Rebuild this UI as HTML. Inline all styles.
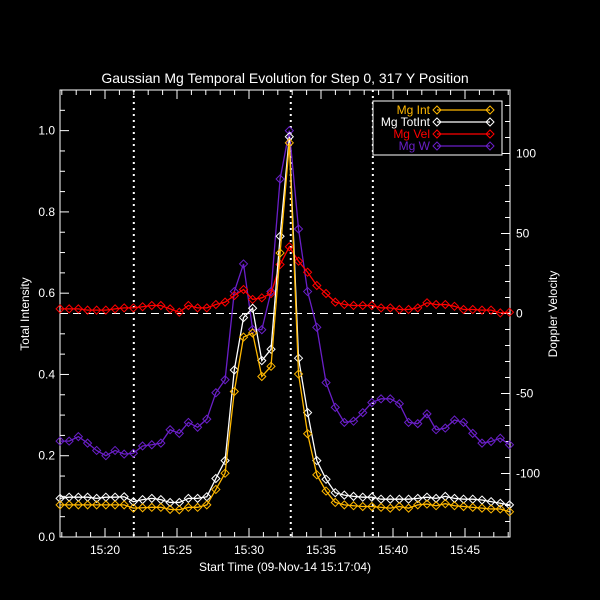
<!DOCTYPE html>
<html><head><meta charset="utf-8"><style>
html,body{margin:0;padding:0;background:#000;}
svg text{font-family:"Liberation Sans",sans-serif;}
</style></head><body>
<svg id="chart" width="600" height="600" xmlns="http://www.w3.org/2000/svg" style="display:block;background:#000">
<text x="285" y="83" fill="#fff" font-size="14" text-anchor="middle">Gaussian Mg Temporal Evolution for Step 0, 317 Y Position</text>
<text transform="translate(29,314) rotate(-90)" fill="#fff" font-size="12" text-anchor="middle">Total Intensity</text>
<text transform="translate(557,314) rotate(-90)" fill="#fff" font-size="12" text-anchor="middle">Doppler Velocity</text>
<text x="285" y="571" fill="#fff" font-size="12" text-anchor="middle">Start Time (09-Nov-14 15:17:04)</text>
<g id="axes"></g><g id="marks"></g><g id="legend"></g>
</svg>
<script>
// time in minutes relative to 15:20
const times=[-3.12,-2.49,-1.85,-1.21,-0.58,0.06,0.70,1.33,1.97,2.61,3.25,3.88,4.52,5.16,5.79,6.43,7.07,7.70,8.34,8.98,9.62,10.25,10.89,11.53,12.16,12.80,13.44,14.07,14.71,15.35,15.99,16.62,17.26,17.90,18.53,19.17,19.81,20.44,21.08,21.72,22.36,22.99,23.63,24.27,24.90,25.54,26.18,26.81,27.45,28.09];
const mgInt=[0.079,0.079,0.079,0.079,0.079,0.079,0.079,0.079,0.071,0.072,0.073,0.073,0.068,0.067,0.073,0.073,0.079,0.117,0.157,0.358,0.492,0.502,0.395,0.420,0.699,0.970,0.401,0.254,0.153,0.113,0.085,0.079,0.077,0.075,0.075,0.073,0.071,0.075,0.071,0.079,0.081,0.077,0.082,0.077,0.075,0.073,0.071,0.069,0.069,0.062];
const mgTotInt=[0.095,0.098,0.098,0.098,0.095,0.098,0.098,0.099,0.087,0.092,0.095,0.092,0.085,0.085,0.095,0.095,0.099,0.144,0.188,0.411,0.540,0.563,0.434,0.462,0.740,0.985,0.440,0.306,0.188,0.142,0.109,0.103,0.100,0.098,0.098,0.093,0.093,0.093,0.093,0.095,0.098,0.095,0.100,0.095,0.093,0.093,0.091,0.087,0.083,0.079];
const mgVel=[2.9,2.9,2.9,2.1,2.1,2.1,2.9,3.5,3.5,4.2,5.0,5.0,2.9,0.8,5.0,3.5,3.5,5.6,7.1,11.2,15.0,8.8,9.8,12.5,30.6,41.7,32.7,25.8,17.5,12.5,7.1,5.6,5.0,5.0,5.0,3.5,3.5,2.5,2.5,3.5,6.7,5.6,5.6,4.5,2.5,2.5,2.1,2.1,0.4,0.8];
const mgW=[0.236,0.236,0.247,0.231,0.213,0.200,0.213,0.204,0.206,0.224,0.227,0.231,0.264,0.255,0.282,0.270,0.290,0.355,0.387,0.604,0.672,0.511,0.510,0.604,0.881,1.000,0.758,0.604,0.516,0.380,0.319,0.282,0.285,0.306,0.331,0.340,0.340,0.328,0.282,0.279,0.303,0.264,0.268,0.288,0.282,0.255,0.231,0.235,0.243,0.227];
const xTickLabels=["15:20","15:25","15:30","15:35","15:40","15:45"];
const xTickMinutes=[0,5,10,15,20,25];
const yTickLabels=["0.0","0.2","0.4","0.6","0.8","1.0"];
const y2TickLabels=["-100","-50","0","50","100"];
const dottedMinutes=[2.0,12.9,18.6];

const L=60,R=510,T=90,B=537;
const xS=m=>105+m*14.4;
const yS=v=>B-v*(B-T)/1.1;
const y2S=v=>313.5-v*1.6;
const NS="http://www.w3.org/2000/svg";
function mk(tag,attrs,parent){const e=document.createElementNS(NS,tag);for(const k in attrs)e.setAttribute(k,attrs[k]);parent.appendChild(e);return e;}
const axes=document.getElementById('axes'),marks=document.getElementById('marks'),leg=document.getElementById('legend');
const frame=mk('rect',{x:L,y:T,width:R-L,height:B-T,fill:'none',stroke:'#fff','stroke-width':1},axes);


// x ticks
for(let m=-3;m<=28;m++){const x=xS(m);if(x<L||x>R)continue;const len=(m%5===0)?9:5;
 const t1=mk('line',{x1:x,x2:x,y1:B,y2:B-len,stroke:'#fff'},axes);
 
 
 const t2=mk('line',{x1:x,x2:x,y1:T,y2:T+len,stroke:'#fff'},axes);
 
 }
xTickLabels.forEach((s,i)=>{const t=mk('text',{x:xS(xTickMinutes[i]),y:554,fill:'#fff','font-size':12,'text-anchor':'middle'},axes);t.textContent=s;
 
 });
// left y ticks
for(let k=0;k<=22;k++){const v=k*0.05;const y=yS(v);const len=(k%4===0)?9:5;
 const t=mk('line',{x1:L,x2:L+len,y1:y,y2:y,stroke:'#fff'},axes);
 
 }
yTickLabels.forEach((s,i)=>{const t=mk('text',{x:55,y:yS(i*0.2)+4,fill:'#fff','font-size':12,'text-anchor':'end'},axes);t.textContent=s;
 
 });
// right y ticks
for(let v=-130;v<=130;v+=10){const y=y2S(v);const len=(v%50===0)?9:5;
 const t=mk('line',{x1:R,x2:R-len,y1:y,y2:y,stroke:'#fff'},axes);
 
 }
y2TickLabels.forEach((s,i)=>{const v=-100+i*50;const t=mk('text',{x:516,y:y2S(v)+4,fill:'#fff','font-size':12},axes);t.textContent=s;
 
 });
// reference lines
dottedMinutes.forEach(m=>{const l=mk('line',{x1:xS(m),x2:xS(m),y1:T,y2:B,stroke:'#fff','stroke-width':2,'stroke-dasharray':'2,4'},axes);
 
 });
const zl=mk('line',{x1:L,x2:R,y1:y2S(0),y2:y2S(0),stroke:'#fff','stroke-width':1,'stroke-dasharray':'8,5'},axes);


function diamond(x,y,c,parent,name){const d=mk('polygon',{points:`${x},${y-4} ${x+4},${y} ${x},${y+4} ${x-4},${y}`,fill:'none',stroke:c,'stroke-width':1},parent);
 
 }
function series(vals,yf,c,name){const g=mk('g',{},marks);
 
 
 const pts=vals.map((v,i)=>[xS(times[i]),yf(v)]);
 const p=mk('polyline',{points:pts.map(p=>p.join(',')).join(' '),fill:'none',stroke:c,'stroke-width':1.3},g);
 
 
 pts.forEach(q=>diamond(q[0],q[1],c,g,name+'-point'));}
series(mgW,yS,'#6a1fc8','mg-w');
series(mgVel,y2S,'#ff0000','mg-vel');
series(mgTotInt,yS,'#ffffff','mg-totint');
series(mgInt,yS,'#ffb800','mg-int');
// legend
const lb=mk('rect',{x:373,y:101,width:129,height:54,fill:'#000',stroke:'#fff'},leg);


const legNames=["Mg Int","Mg TotInt","Mg Vel","Mg W"];
const legColors=['#ffb800','#ffffff','#ff0000','#6a1fc8'];
legNames.forEach((n,i)=>{const y=110+i*12;const c=legColors[i];
 const t=mk('text',{x:430,y:y+4,fill:c,'font-size':12,'text-anchor':'end'},leg);t.textContent=n;
 
 
 const l=mk('line',{x1:437,x2:490,y1:y,y2:y,stroke:c,'stroke-width':1.3},leg);
 
 
 diamond(437,y,c,leg,'legend-marker');diamond(490,y,c,leg,'legend-marker');});
</script>
</body></html>
